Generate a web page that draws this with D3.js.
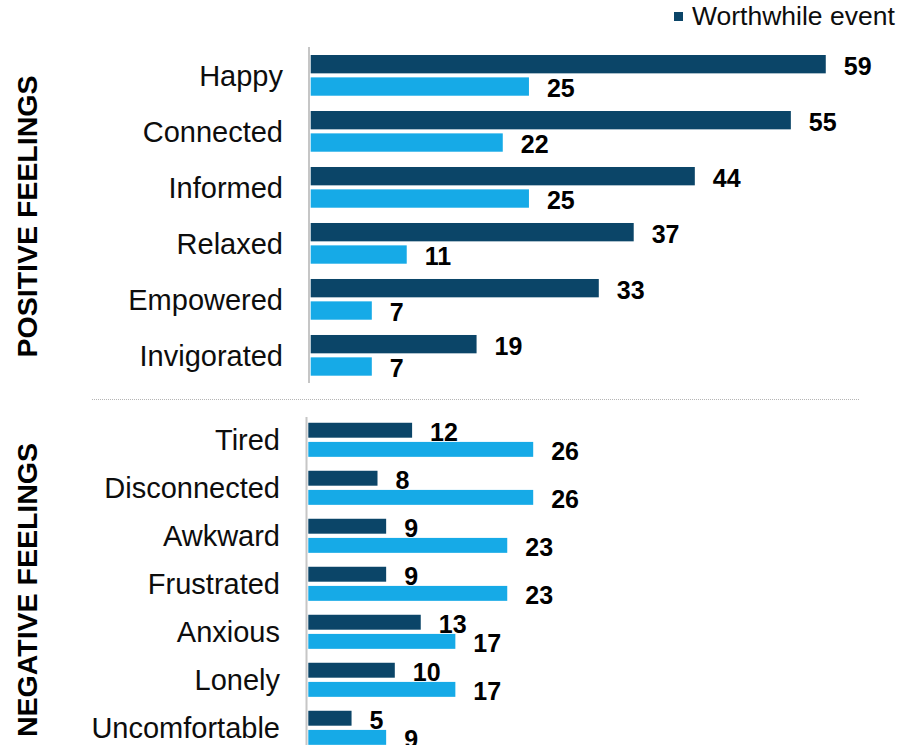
<!DOCTYPE html>
<html>
<head>
<meta charset="utf-8">
<script src="https://cdn.jsdelivr.net/npm/d3@7"></script>
<style>
  html, body { margin: 0; padding: 0; background: #ffffff; }
  svg { display: block; font-family: "Liberation Sans", Arial, sans-serif; }
</style>
</head>
<body>
<svg id="chart" width="900" height="745"></svg>
<script>
// ---- Data ----
const positiveCategories = ["Happy", "Connected", "Informed", "Relaxed", "Empowered", "Invigorated"];
const positiveWorthwhile = [59, 55, 44, 37, 33, 19];
const positiveOther      = [25, 22, 25, 11, 7, 7];

const negativeCategories = ["Tired", "Disconnected", "Awkward", "Frustrated", "Anxious", "Lonely", "Uncomfortable"];
const negativeWorthwhile = [12, 8, 9, 9, 13, 10, 5];
const negativeOther      = [26, 26, 23, 23, 17, 17, 9];

const seriesKeys = ["worthwhile", "other"];
const legendLabels = ["Worthwhile event"];
const sectionTitles = ["POSITIVE FEELINGS", "NEGATIVE FEELINGS"];

// ---- Styles ----
const colors = { worthwhile: "#0b4568", other: "#16aae7" };
const axisColor = "#c6c6c6";

const svg = d3.select("#chart");

function drawPanel(cfg) {
  const rows = cfg.categories.map((c, i) => ({
    cat: c,
    worthwhile: cfg.worthwhile[i],
    other: cfg.other[i]
  }));

  const x = d3.scaleLinear().domain([0, 60]).range([cfg.x0, cfg.x0 + 60 * cfg.unit]);

  const y = d3.scaleBand()
    .domain(cfg.categories)
    .range([cfg.yTop, cfg.yBottom])
    .paddingInner(cfg.padInner)
    .paddingOuter(cfg.padOuter);

  const ySub = d3.scaleBand()
    .domain(seriesKeys)
    .range([0, y.bandwidth()])
    .paddingInner(cfg.subPad);

  const g = svg.append("g");

  // axis line
  g.append("line")
    .attr("x1", cfg.axisX).attr("x2", cfg.axisX)
    .attr("y1", cfg.axisTop).attr("y2", cfg.axisBottom)
    .attr("stroke", axisColor).attr("stroke-width", 2);

  const groups = g.selectAll("g.grp").data(rows).join("g")
    .attr("class", "grp")
    .attr("transform", d => `translate(0,${y(d.cat)})`);

  groups.selectAll("rect").data(d => seriesKeys.map(k => ({ key: k, value: d[k] }))).join("rect")
    .attr("x", x(0))
    .attr("y", d => ySub(d.key))
    .attr("width", d => x(d.value) - x(0))
    .attr("height", ySub.bandwidth())
    .attr("fill", d => colors[d.key]);

  const valueSize = 25;
  groups.selectAll("text.val").data(d => seriesKeys.map(k => ({ key: k, value: d[k] }))).join("text")
    .attr("class", "val")
    .attr("x", d => x(d.value) + 18)
    .attr("y", d => ySub(d.key) + ySub.bandwidth() / 2 + 1.5 + valueSize * 0.716 / 2)
    .attr("font-size", valueSize)
    .attr("font-weight", "bold")
    .attr("fill", "#000")
    .text(d => d.value);

  const catSize = 29;
  groups.append("text")
    .attr("x", cfg.labelX)
    .attr("y", y.bandwidth() / 2 + catSize * 0.716 / 2)
    .attr("text-anchor", "end")
    .attr("font-size", catSize)
    .attr("fill", "#0d0d0d")
    .text(d => d.cat);

  // rotated section title
  svg.append("text")
    .attr("transform", `translate(${cfg.titleX},${cfg.titleY}) rotate(-90)`)
    .attr("text-anchor", "middle")
    .attr("font-size", 28.5)
    .attr("font-weight", "bold")
    .attr("fill", "#000")
    .text(cfg.title);
}

drawPanel({
  categories: positiveCategories,
  worthwhile: positiveWorthwhile,
  other: positiveOther,
  x0: 310.7, unit: 8.73,
  yTop: 47, yBottom: 383.7,
  padInner: 0.273, padOuter: 0.143, subPad: 0.18,
  axisX: 309, axisTop: 47, axisBottom: 383,
  labelX: 283,
  title: sectionTitles[0], titleX: 36.5, titleY: 216.5
});

drawPanel({
  categories: negativeCategories,
  worthwhile: negativeWorthwhile,
  other: negativeOther,
  x0: 308.3, unit: 8.65,
  yTop: 417, yBottom: 750.6,
  padInner: 0.29, padOuter: 0.12, subPad: 0.22,
  axisX: 306.5, axisTop: 417, axisBottom: 745,
  labelX: 280,
  title: sectionTitles[1], titleX: 36.5, titleY: 590
});

// separator
svg.append("line")
  .attr("x1", 92).attr("x2", 860)
  .attr("y1", 399.5).attr("y2", 399.5)
  .attr("stroke", "#b5b5b5").attr("stroke-width", 1)
  .attr("stroke-dasharray", "1,1");

// legend
const legend = svg.append("g");
legend.append("rect")
  .attr("x", 674).attr("y", 12).attr("width", 9).attr("height", 9)
  .attr("fill", colors.worthwhile);
legend.append("text")
  .attr("x", 692).attr("y", 25)
  .attr("font-size", 26.5)
  .attr("fill", "#0d0d0d")
  .text(legendLabels[0]);
</script>
</body>
</html>
